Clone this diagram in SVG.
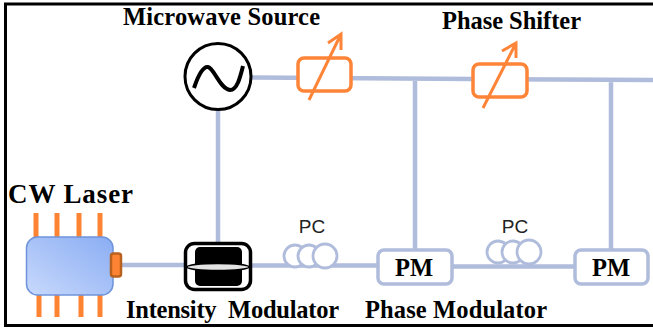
<svg xmlns="http://www.w3.org/2000/svg" width="653" height="328" viewBox="0 0 653 328">
<defs>
<linearGradient id="lg" x1="0" y1="1" x2="1" y2="0"><stop offset="0" stop-color="#c8d9fc"/><stop offset="1" stop-color="#8aadf3"/></linearGradient>
</defs>
<style>
.t{font-family:"Liberation Serif",serif;font-weight:700;fill:#000;font-size:24.5px}
.w{stroke:#b0bcdb;stroke-width:4.5;fill:none}
.o{stroke:#fe8438;fill:none;stroke-width:3}
.pin{stroke:#fe8433;stroke-width:5}
.pc{fill:#fff;stroke:#b0bcdb;stroke-width:2.8}
.pm{fill:#fff;stroke:#b0bcdb;stroke-width:3.5}
.p{font-family:"Liberation Sans",sans-serif;font-size:19px;fill:#222;text-anchor:middle}
</style>
<rect width="653" height="328" fill="#fff"/>
<rect x="5.500" y="4" width="660" height="321.500" fill="none" stroke="#000" stroke-width="3"/>
<g id="connectors">
<path class="w" d="M250 77.500L472 79L653 80M218 109V244M121 265H186M250 265.500H378M452 266.500H575M415 78V250M611 80V250"/>
</g>
<g id="microwave-source"><circle cx="218" cy="76.500" r="33" fill="#fff" stroke="#000" stroke-width="3"/><path d="M194 88C199 73 204 66 208 67C214 68 220 89 230 90C237 90 240 78 243 66" fill="none" stroke="#000" stroke-width="4"/><text class="t" x="123" y="25" textLength="197">Microwave Source</text></g>
<g id="phase-shifter-1"><rect x="298" y="58" width="53" height="33" rx="6" fill="#fff" stroke="#fe8438" stroke-width="3.500"/><path class="o" d="M309 100L341 34M328 43L341 34L341 50"/></g>
<g id="phase-shifter-2"><rect x="473" y="64" width="54" height="33" rx="6" fill="#fff" stroke="#fe8438" stroke-width="3.500"/><path class="o" d="M483 108L516 43M502 51L516 43L516 58"/><text class="t" x="442" y="29" textLength="139">Phase Shifter</text></g>
<g id="cw-laser"><path class="pin" d="M36 213V237M57 213V237M79 213V237M100 213V237M39 295V317M57 295V317M81 295V317M100 295V317"/><rect x="26.500" y="237" width="86.500" height="58" rx="11" fill="url(#lg)" stroke="#6f94dc" stroke-width="1.500"/><rect x="111" y="253.500" width="10" height="23" rx="2.500" fill="#fe8433" stroke="#b9611f" stroke-width="2.500"/><text class="t" x="8" y="203" style="font-size:27px" textLength="125">CW Laser</text></g>
<g id="intensity-modulator"><rect x="185.500" y="243.500" width="65" height="46" rx="9" fill="#fff" stroke="#000" stroke-width="3.500"/><rect x="195" y="247" width="47" height="39" rx="5" fill="#000"/><ellipse cx="218" cy="267" rx="31" ry="3.500" fill="#e4e4e4" stroke="#000" stroke-width="1.500"/><text class="t" x="126" y="318" xml:space="preserve" textLength="213">Intensity  Modulator</text></g>
<g id="pc-1"><circle class="pc" cx="295" cy="256" r="11"/><circle class="pc" cx="309" cy="256" r="11"/><circle class="pc" cx="325" cy="256" r="12"/><text class="p" x="312" y="233">PC</text></g>
<g id="pc-2"><circle class="pc" cx="498" cy="252" r="11"/><circle class="pc" cx="513" cy="252" r="11"/><circle class="pc" cx="529" cy="252" r="12"/><text class="p" x="515" y="233">PC</text></g>
<g id="pm-1"><rect class="pm" x="378" y="250" width="74" height="34" rx="6"/><text class="t" x="414" y="276" text-anchor="middle">PM</text><text class="t" x="365" y="318" textLength="182">Phase Modulator</text></g>
<g id="pm-2"><rect class="pm" x="575" y="250" width="73" height="34" rx="6"/><text class="t" x="611" y="276" text-anchor="middle">PM</text></g>
</svg>
